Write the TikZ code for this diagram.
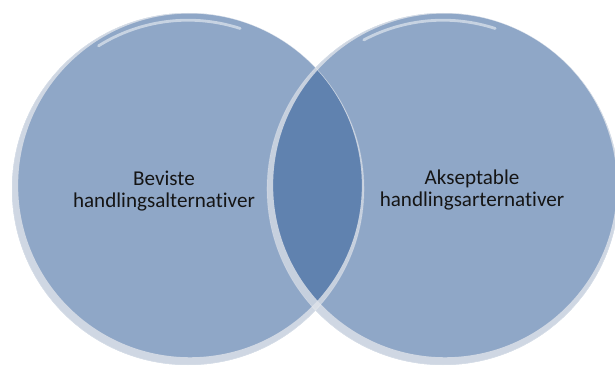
\documentclass[tikz,border=0pt]{standalone}
\usepackage{fontspec}
\setmainfont[Ligatures=NoCommon]{Carlito}
\begin{document}
\begin{tikzpicture}[
    disc/.style={fill=cl1, fill opacity=0.58},
    rim/.style={fill=cl2, fill opacity=0.8, even odd rule},
    edge/.style={draw=white, draw opacity=0.3, line width=0.4pt},
    gleam/.style={draw=white, draw opacity=0.5, line width=2pt, line cap=round},
    lbl/.style={align=center, text=cl3, font=\fontsize{15}{15.6}\selectfont}
  ]
    \definecolor{cl1}{HTML}{3E679E}
    \definecolor{cl2}{HTML}{E0E4EA}
    \definecolor{cl3}{HTML}{151515}
    \useasboundingbox (0,0) rectangle (15.375,9.2);
    % the two sets
    \fill[disc] ( 4.700,4.475) circle (4.4cm);
    \fill[disc] (11.075,4.475) circle (4.4cm);
    % light rims at the lower left
    \fill[rim] ( 4.700,4.475) circle (4.4cm) ( 4.750,4.565) circle (4.297cm);
    \fill[rim] (11.075,4.475) circle (4.4cm) (11.125,4.565) circle (4.297cm);
    \draw[edge] ( 4.700,4.475) circle (4.4cm);
    \draw[edge] (11.075,4.475) circle (4.4cm);
    % gleams on top
    \draw[gleam] ([shift=(72:4.22)] 4.700,4.475) arc (72:122:4.22);
    \draw[gleam] ([shift=(72:4.22)]11.075,4.475) arc (72:118:4.22);
    % labels
    \node[lbl] (bev) at ( 4.10,4.43) {Beviste\\handlingsalternativer};
    \node[lbl] (aks) at (11.80,4.45) {Akseptable\\handlingsarternativer};
\end{tikzpicture}
\end{document}
